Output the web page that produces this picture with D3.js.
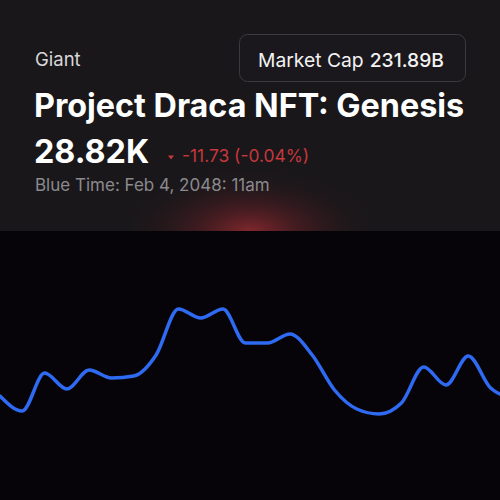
<!DOCTYPE html>
<html><head><meta charset="utf-8">
<script src="https://cdn.jsdelivr.net/npm/d3@7"></script>
<style>html,body{margin:0;padding:0;background:#060408;}svg{display:block;}</style>
</head><body>
<script>
const categories = d3.range(24);
const values = [104, 89, 127, 111, 130, 122, 124, 145, 191, 182, 191, 157, 157, 166, 145, 110, 91, 86, 97, 133, 115, 144, 112, 102];
const labels = {
  exchange: "Giant",
  capLabel: "Market Cap",
  capValue: "231.89B",
  title: "Project Draca NFT: Genesis",
  price: "28.82K",
  change: "-11.73 (-0.04%)",
  time: "Blue Time: Feb 4, 2048: 11am"
};

const W = 500, H = 500;
const svg = d3.select("body").append("svg").attr("width", W).attr("height", H);
const defs = svg.append("defs");
const rg = defs.append("radialGradient").attr("id","glow")
  .attr("gradientUnits","userSpaceOnUse").attr("cx",250).attr("cy",232).attr("r",140)
  .attr("gradientTransform","translate(250,232) scale(1,0.5) translate(-250,-232)");
rg.append("stop").attr("offset","0").attr("stop-color","#8e2a30").attr("stop-opacity",0.9);
rg.append("stop").attr("offset","0.35").attr("stop-color","#6a2026").attr("stop-opacity",0.5);
rg.append("stop").attr("offset","0.7").attr("stop-color","#3a1a1e").attr("stop-opacity",0.2);
rg.append("stop").attr("offset","1").attr("stop-color","#19171a").attr("stop-opacity",0);

svg.append("rect").attr("width",W).attr("height",H).attr("fill","#060408");
svg.append("rect").attr("width",W).attr("height",231).attr("fill","#19171a");
svg.append("rect").attr("x",100).attr("y",150).attr("width",300).attr("height",81).attr("fill","url(#glow)");

const font = "Inter, 'Noto Sans', sans-serif";
svg.append("text").attr("x",35).attr("y",66).attr("fill","#d8d8da").attr("font-family",font)
  .attr("font-size",18.5).text(labels.exchange);

svg.append("rect").attr("x",239.5).attr("y",34.5).attr("width",226).attr("height",47).attr("rx",8)
  .attr("fill","#1a181c").attr("stroke","#3b3a3e").attr("stroke-width",1);
const cap = svg.append("text").attr("x",258).attr("y",67).attr("fill","#f2f2f2").attr("font-family",font).attr("font-size",19.3);
cap.append("tspan").text(labels.capLabel);
cap.append("tspan").attr("dx",6).attr("font-weight",500).text(labels.capValue);

svg.append("text").attr("x",34).attr("y",117).attr("fill","#ffffff").attr("font-family",font)
  .attr("font-size",32.3).attr("font-weight",700).text(labels.title);
svg.append("text").attr("x",34).attr("y",163).attr("fill","#ffffff").attr("font-family",font)
  .attr("font-size",32.3).attr("font-weight",700).text(labels.price);
svg.append("path").attr("d","M168,155.5 L174,155.5 L171,159.5 Z").attr("fill","#c7383c");
svg.append("text").attr("x",182).attr("y",162).attr("fill","#c7383c").attr("font-family",font)
  .attr("font-size",17.4).text(labels.change);
svg.append("text").attr("x",35).attr("y",191).attr("fill","#8b8a8e").attr("font-family",font)
  .attr("font-size",17).text(labels.time);

const x = d3.scaleLinear().domain([0, 22]).range([0, 490.6]);
const y = d3.scaleLinear().domain([0, 200]).range([500, 300]);
const line = d3.line().x((d,i)=>x(categories[i])).y(d=>y(d)).curve(d3.curveMonotoneX);
svg.append("path").datum(values).attr("d",line).attr("fill","none")
  .attr("stroke","#2f6bf2").attr("stroke-width",3.5).attr("stroke-linejoin","round").attr("stroke-linecap","round");
</script>
</body></html>
